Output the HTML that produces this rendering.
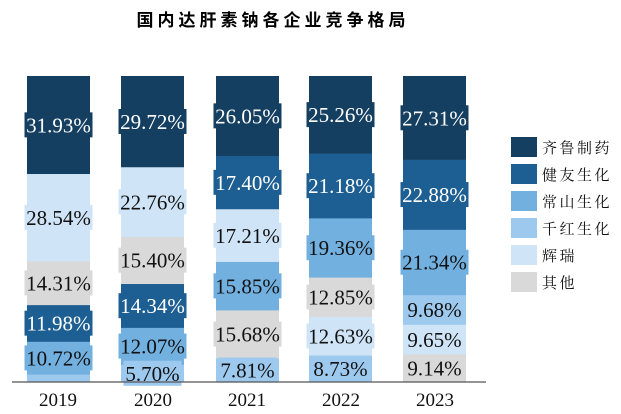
<!DOCTYPE html>
<html><head><meta charset="utf-8"><style>
body{margin:0;background:#fff;width:621px;height:414px;overflow:hidden}
svg{display:block}
</style></head><body>
<svg id="s" width="621" height="414" xmlns="http://www.w3.org/2000/svg">
<text x="273" y="26" text-anchor="middle" font-family="'Noto Sans CJK SC', sans-serif" font-weight="bold" font-size="17" letter-spacing="4">国内达肝素钠各企业竞争格局</text>
<g id="bars"></g>
<line x1="12" y1="382" x2="486" y2="382" stroke="#555" stroke-width="1.2"/>
<g font-family="Liberation Serif, serif" font-size="19" text-anchor="middle" fill="#111">
<text x="58" y="406">2019</text><text x="153" y="406">2020</text><text x="247" y="406">2021</text><text x="341" y="406">2022</text><text x="435" y="406">2023</text>
</g>
<g font-family="'Noto Serif CJK SC', serif" font-size="15" letter-spacing="2.5" fill="#111">
<rect x="511" y="137" width="26" height="20" fill="#153f61"/><text x="542" y="153">齐鲁制药</text>
<rect x="511" y="164" width="26" height="20" fill="#1d5f92"/><text x="542" y="180">健友生化</text>
<rect x="511" y="191" width="26" height="20" fill="#72b0e0"/><text x="542" y="207">常山生化</text>
<rect x="511" y="218" width="26" height="20" fill="#9ec9ee"/><text x="542" y="234">千红生化</text>
<rect x="511" y="245" width="26" height="20" fill="#cfe4f6"/><text x="542" y="261">辉瑞</text>
<rect x="511" y="272" width="26" height="20" fill="#d9d9d9"/><text x="542" y="288">其他</text>
</g>
</svg>
<script>
var C={q:"#153f61",j:"#1d5f92",c:"#72b0e0",k:"#9ec9ee",h:"#cfe4f6",o:"#d9d9d9"};
var D=[
 [27,[["k",2.52,0],["c",10.72],["j",11.98],["o",14.31],["h",28.54],["q",31.93]]],
 [121,[["k",5.70],["c",12.07],["j",14.34],["o",15.40],["h",22.76],["q",29.72]]],
 [216,[["k",7.81],["o",15.68],["c",15.85],["h",17.21],["j",17.40],["q",26.05]]],
 [309,[["k",8.73],["h",12.63],["o",12.85],["c",19.36],["j",21.18],["q",25.26]]],
 [403,[["o",9.14],["h",9.65],["k",9.68],["c",21.34],["j",22.88],["q",27.31]]]
];
var g=document.getElementById("bars"),h="";
var H=306,W=63;
D.forEach(function(b){
 var x=b[0],tot=0;b[1].forEach(function(s){tot+=s[1]});
 var y=382;
 b[1].forEach(function(s){
  var hh=s[1]/tot*H;y-=hh;
  h+='<rect x="'+x+'" y="'+y.toFixed(2)+'" width="'+W+'" height="'+(hh+0.3).toFixed(2)+'" fill="'+C[s[0]]+'"/>';
 });
 y=382;
 b[1].forEach(function(s){
  var hh=s[1]/tot*H;y-=hh;
  if(s[2]===0)return;
  var t=s[1].toFixed(2)+"%",cy=y+hh/2,wd=t.length*10+8;
  var dark=(s[0]=="q"||s[0]=="j");
  h+='<rect x="'+(x+W/2-wd/2).toFixed(1)+'" y="'+(cy-12.5)+'" width="'+wd.toFixed(1)+'" height="25" fill="'+C[s[0]]+'"/>';
  h+='<text x="'+(x+W/2)+'" y="'+(cy+7.5)+'" text-anchor="middle" font-family="Liberation Serif, serif" font-size="21" fill="'+(dark?"#fff":"#111")+'">'+t+'</text>';
 });
});
g.innerHTML=h;
</script>
</body></html>
